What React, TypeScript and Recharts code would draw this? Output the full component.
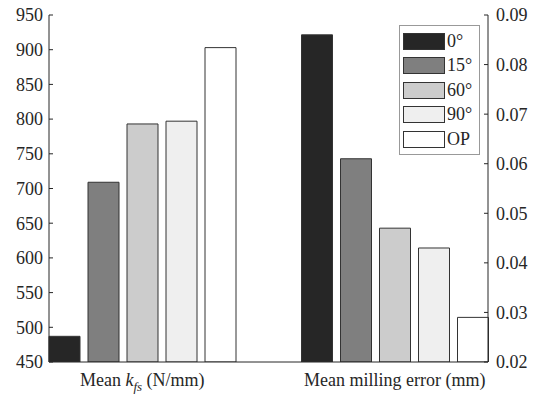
import React from 'react';
import { BarChart, Bar, XAxis, YAxis, Legend } from 'recharts';

const groups = ['kfs', 'err'];
const angles = ['0°', '15°', '60°', '90°', 'OP'];
const kfsValues = [487, 709, 793, 797, 903];
const errValues = [0.086, 0.061, 0.047, 0.043, 0.029];
const leftTicks = [450, 500, 550, 600, 650, 700, 750, 800, 850, 900, 950];
const rightTicks = [0.02, 0.03, 0.04, 0.05, 0.06, 0.07, 0.08, 0.09];
const fills = ['#262626', '#7f7f7f', '#cccccc', '#efefef', '#ffffff'];

const FONT = 'Liberation Serif';
const INK = '#262626';

const data = groups.map((g) => {
    const row: Record<string, string | number | null> = { name: g };
    angles.forEach((_, i) => {
        row[`k${i}`] = g === 'kfs' ? kfsValues[i] : null;
        row[`e${i}`] = g === 'err' ? errValues[i] : null;
    });
    return row;
});

const GroupTick = (props: any) => {
    const { x, y, payload } = props;
    const base = { fontFamily: FONT, fontSize: 18, fill: INK };
    if (payload.value === 'kfs') {
        return (
            <text x={x} y={y + 16} textAnchor="middle" {...base}>
                <tspan>Mean </tspan>
                <tspan fontStyle="italic">k</tspan>
                <tspan fontStyle="italic" fontSize={13} dy={5}>fs</tspan>
                <tspan dy={-5}> (N/mm)</tspan>
            </text>
        );
    }
    return (
        <text x={x} y={y + 16} textAnchor="middle" {...base}>
            Mean milling error (mm)
        </text>
    );
};

const LegendBox = () => (
    <div
        style={{
            border: '1px solid #999',
            background: '#fff',
            padding: '3px 4px 2px 3px',
            fontFamily: FONT,
            fontSize: 18,
            color: INK,
            width: 72,
        }}
    >
        {angles.map((a, i) => (
            <div key={a} style={{ display: 'flex', alignItems: 'center', height: 24.5 }}>
                <div
                    style={{
                        width: 40,
                        height: 15,
                        background: fills[i],
                        border: '1px solid #333',
                        marginRight: 2,
                    }}
                />
                <span>{a}</span>
            </div>
        ))}
    </div>
);

export default function App() {
    return (
        <div style={{ position: 'absolute', left: 0, top: 0, width: 539, height: 398, background: '#fff' }}>
            <BarChart
                width={539}
                height={398}
                data={data}
                margin={{ top: 15, right: 0, bottom: 0, left: 0 }}
                barCategoryGap={33}
                barGap={8}
            >
                <XAxis
                    xAxisId="a"
                    dataKey="name"
                    height={36}
                    padding={{ left: -33, right: -33 }}
                    axisLine={{ stroke: INK }}
                    tickLine={false}
                    tick={<GroupTick />}
                />
                <XAxis xAxisId="b" dataKey="name" hide padding={{ left: -33, right: -33 }} />
                <YAxis
                    yAxisId="left"
                    orientation="left"
                    width={49}
                    domain={[450, 950]}
                    ticks={leftTicks}
                    allowDataOverflow
                    axisLine={{ stroke: INK }}
                    tickLine={{ stroke: INK }}
                    tickSize={-4}
                    tickMargin={10}
                    tick={{ fontFamily: FONT, fontSize: 18, fill: INK }}
                />
                <YAxis
                    yAxisId="right"
                    orientation="right"
                    width={51}
                    domain={[0.02, 0.09]}
                    ticks={rightTicks}
                    allowDataOverflow
                    tickFormatter={(v: number) => v.toFixed(2)}
                    axisLine={{ stroke: INK }}
                    tickLine={{ stroke: INK }}
                    tickSize={-4}
                    tickMargin={12}
                    tick={{ fontFamily: FONT, fontSize: 18, fill: INK }}
                />
                {angles.map((a, i) => (
                    <Bar
                        key={`k${i}`}
                        dataKey={`k${i}`}
                        name={a}
                        xAxisId="a"
                        yAxisId="left"
                        fill={fills[i]}
                        stroke="#333"
                        strokeWidth={1}
                        isAnimationActive={false}
                    />
                ))}
                {angles.map((a, i) => (
                    <Bar
                        key={`e${i}`}
                        dataKey={`e${i}`}
                        name={a}
                        xAxisId="b"
                        yAxisId="right"
                        fill={fills[i]}
                        stroke="#333"
                        strokeWidth={1}
                        isAnimationActive={false}
                    />
                ))}
                <Legend
                    layout="horizontal"
                    verticalAlign="middle"
                    align="center"
                    wrapperStyle={{ left: 399, top: 25, width: 80 }}
                    content={<LegendBox />}
                />
            </BarChart>
        </div>
    );
}
